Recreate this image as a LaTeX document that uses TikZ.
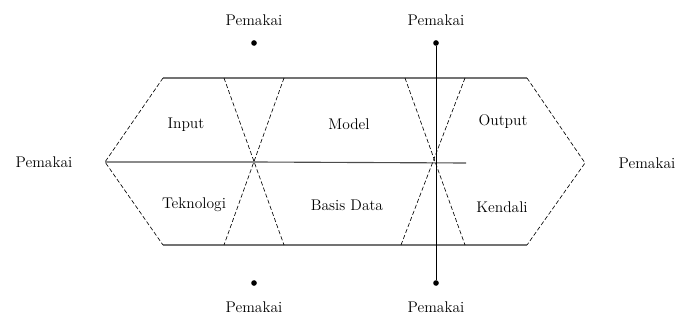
\documentclass[tikz,border=0pt]{standalone}
\usetikzlibrary{positioning, calc}

\begin{document}
\begin{tikzpicture}[
  x=0.025cm, y=-0.025cm,
  every node/.style={font=\fontsize{11}{13}\selectfont, inner sep=1pt},
  rim/.style={draw=black!55, line width=1.1pt},
  axis/.style={draw=black!70, line width=0.8pt},
  side/.style={draw, dashed, dash pattern=on 3pt off 1.6pt, line width=0.45pt},
  dot/.style={circle, fill, inner sep=0pt, minimum size=4pt}
]
\useasboundingbox (0,0) rectangle (676,320);

% Outline corners
\coordinate (lt) at (163,78);
\coordinate (lb) at (163,245);
\coordinate (rt) at (527,78);
\coordinate (rb) at (527,245);
\coordinate (lapex) at (105,162);
\coordinate (rapex) at (585,163);

% Hourglass points
\coordinate (h1tl) at (224,78);
\coordinate (h1tr) at (284,78);
\coordinate (h1bl) at (224,245);
\coordinate (h1br) at (284,245);
\coordinate (h1x) at (254,162);
\coordinate (h2tl) at (405,78);
\coordinate (h2tr) at (465,78);
\coordinate (h2bl) at (401,245);
\coordinate (h2br) at (465,245);
\coordinate (h2x) at (435,163);
\coordinate (mid) at (466,163);

% Users
\node (upl) at (254,20) {Pemakai};
\node[dot] (dpl) at (254,43) {};
\node (upr) at (436,20) {Pemakai};
\node[dot] (dpr) at (436,43) {};
\node[dot] (dbl) at (254,283) {};
\node (ubl) at (254,307) {Pemakai};
\node[dot] (dbr) at (436,283) {};
\node (ubr) at (436,307) {Pemakai};
\node (uleft) at (44,162) {Pemakai};
\node (uright) at (647,163) {Pemakai};

% Parts
\node (input) at (186,125) {Input};
\node (model) at (349,124) {Model};
\node (output) at (503,122) {Output};
\node (tek) at (194,205) {Teknologi};
\node (basis) at (347,205) {Basis Data};
\node (kendali) at (502,207) {Kendali};

% Outline
\draw[rim] (lt) -- (rt);
\draw[rim] (lb) -- (rb);
\draw[side] (lt) -- (lapex) -- (lb);
\draw[side] (rt) -- (rapex) -- (rb);
\draw[axis] (lapex) -- (h1x) -- (mid);

% Hourglasses
\draw[side] (h1tl) -- (h1br);
\draw[side] (h1tr) -- (h1bl);
\draw[side] (h2tl) -- (h2br);
\draw[side] (h2tr) -- (h2bl);

% Vertical link
\draw[line width=0.7pt] (dpr) -- (dbr);
\end{tikzpicture}
\end{document}
